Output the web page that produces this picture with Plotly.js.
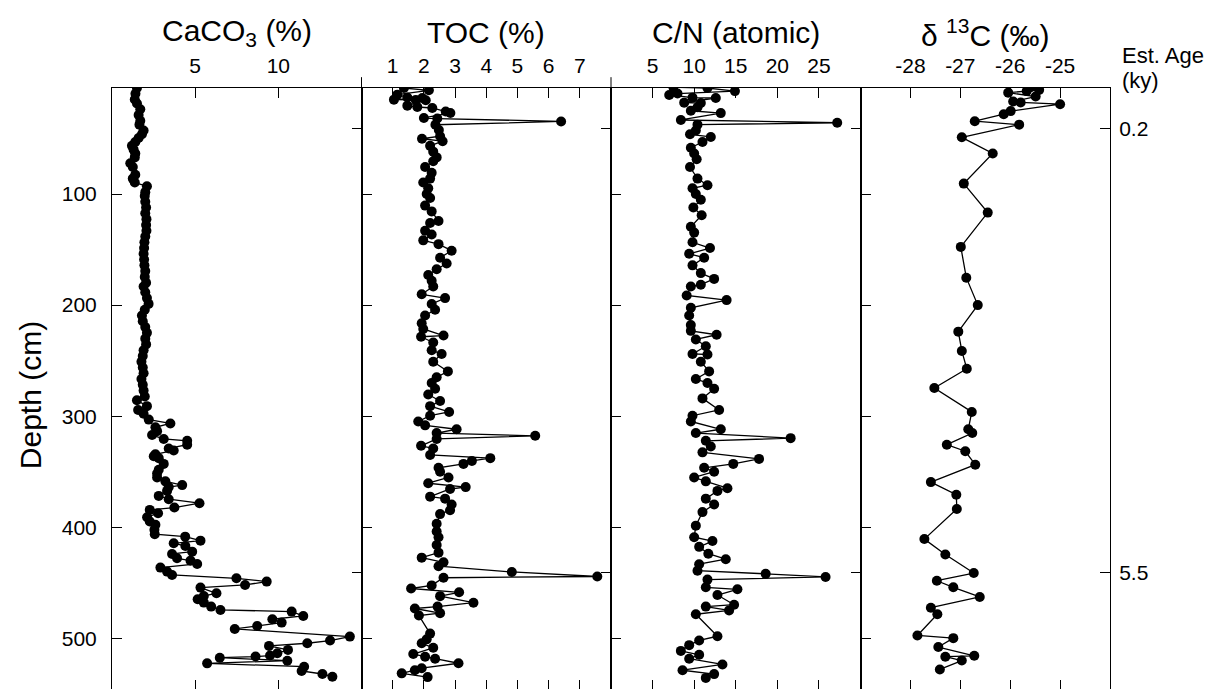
<!DOCTYPE html>
<html>
<head>
<meta charset="utf-8">
<script src="https://cdn.plot.ly/plotly-3.0.1.min.js"></script>
<style>
html, body { margin:0; padding:0; overflow:hidden; background:#fff; }
#chart { width:1213px; height:696px; }
</style>
</head>
<body>
<div id="chart"></div>
<script>
// ---------- data ----------
const caco3Depth = [4.5,9.7,14.9,18.4,23.6,28.8,34,37.5,42.7,46.2,49.6,53.1,56.6,60,63.5,67,72.2,75.7,82.6,86.1,89.6,
  93,98.3,101.7,106.9,112.1,117.3,122.6,127.8,133,138.2,143.4,148.6,153.8,159,164.2,169.4,174.6,179.8,183.3,188.5,193.7,198.9,204.2,209.4,214.6,219.8,225,230.2,235.4,240.6,245.8,251,256.2,261.4,266.6,271.8,277,282.3,285.7,291,294.4,297.9,
  303.1,306.6,310,313.5,317,320.5,322.2,325.7,329.1,330.9,334.4,336.1,337.8,343,348.2,351.7,355.2,358.7,362.1,363.9,367.3,
  371.8,374.8,378.4,382.3,384.4,387.4,391,394.9,397.9,402.4,406.3,408.5,412.1,414.5,416.9,422,424.1,428,430.1,433.1,436.4,440,443,446,449,452,454.4,459.5,461.9,464.9,467.9,471.5,474.5,476,479.9,482.9,485.9,488.9,491.6,498.5,502.1,504.5,506.9,510.5,513.5,515.6,516.5,517.5,520.2,522.6,525.6,529.5,532.2,534.6];
const caco3Value = [1.5,1.41,1.37,1.5,1.7,1.6,1.7,1.65,1.9,1.8,1.6,1.4,1.2,1.3,1.4,1.37,1.1,1.25,1.4,1.25,1.37,
  2.1,2.0,1.97,2.0,2.05,2.0,2.07,2.05,2.07,2.0,1.95,1.93,1.9,1.93,1.95,2.0,1.97,2.05,1.9,2.0,2.1,2.2,1.97,1.8,1.85,2.0,2.1,2.0,2.05,1.9,1.85,1.77,1.85,1.9,1.77,1.85,1.9,1.97,1.5,2.1,1.57,1.9,
  2.21,3.51,2.61,2.71,2.41,3.11,4.52,4.52,3.41,3.71,2.61,2.51,2.81,3.11,2.81,2.71,2.71,3.21,4.22,3.41,3.31,
  2.81,3.41,5.26,3.75,2.27,2.77,2.11,2.27,2.61,2.55,2.57,4.4,5.32,3.71,4.41,4.82,3.61,3.91,4.72,5.12,2.91,3.31,3.61,7.48,9.3,8.0,5.32,6.28,5.52,5.15,5.52,5.96,6.52,10.8,11.5,9.64,10.2,8.73,7.38,14.3,13.11,11.74,9.44,10.58,9.94,9.5,8.63,6.48,10.54,5.72,11.55,11.4,12.65,13.25];

const tocDepth = [4.5,6.6,10.5,13,13.5,15,15.2,15.5,20.4,21.6,22.5,25.6,27,31.5,32,34.6,37.6,42.3,47.9,50.2,52.4,56.6,61.8,67,70.5,75.7,80.9,86.1,89.6,94.8,100,103.5,110.4,115.6,124.3,126,133,136.4,141.7,145.1,151,157.3,162.5,167.7,172.9,178.1,183.3,190.3,193.7,199,204.2,209.4,216.3,221.5,227.4,228.5,233.7,240.6,244.1,251,259.7,264.9,270.1,275.3,280.5,286.4,291,296.2,299.6,304.8,308.3,311.8,315.2,317.7,320.5,326.7,329.1,335,337.8,340.3,343,346.5,350,355.2,360.4,363.9,365.6,372.5,374.3,379.5,384.7,388.2,396.9,403.8,409,416,422.9,427.4,431.6,435.1,440.3,444.4,445.5,452.4,455.2,458.6,462.1,468,471.5,473.2,477.4,479.5,495.8,501,504.5,508.6,514.2,516.6,518.4,522.5,527,528.8,531.6,535];
const tocValue = [1.36,2.16,1.15,1.47,1.95,1.04,1.74,2.06,1.47,1.79,2.27,2.7,2.85,2.0,2.43,6.4,2.37,2.48,2.52,1.94,2.6,2.2,2.3,2.41,2.3,2.04,2.25,2.2,1.98,2.14,2.09,2.2,2.04,2.25,2.47,2.2,2.04,2.25,1.98,2.47,2.89,2.52,2.73,2.41,2.14,2.25,2.3,1.93,2.68,2.25,2.36,2.04,1.93,1.98,2.63,1.91,2.3,2.25,2.57,2.3,2.77,2.41,2.25,2.36,2.14,2.52,2.2,2.81,2.2,1.82,2.04,3.05,2.41,5.57,2.41,1.91,2.3,2.2,4.13,3.54,3.27,2.47,2.52,2.79,2.14,3.34,2.84,2.2,2.68,2.89,2.84,2.52,2.41,2.41,2.47,2.41,2.47,1.93,2.63,2.47,4.82,7.56,2.63,2.25,1.59,3.13,2.52,3.59,2.44,1.71,2.52,1.84,2.2,2.09,1.93,2.3,1.66,2.04,2.36,3.11,1.93,1.71,1.29,2.12];

const cnDepth = [3.8,4.5,7.3,9.5,10.8,13.2,13.5,17.7,18,21.9,25,27.1,33.3,35.8,37.5,42.7,46.2,48.6,53.1,58.3,63.5,68.7,75.7,86.1,92,94.8,100,105.2,112.1,119.1,129.5,134.7,143.4,148.6,153.8,157.3,164.2,171.2,176.4,181.6,183.3,191.3,195.5,202.4,209.4,218,223.2,226.7,230.9,237.1,244,244.5,251,259.7,266.6,270.1,275.3,284,294.4,299.6,304.8,311.8,315.2,319.8,322.2,327.4,332.6,338.5,343,346.5,350,355.2,358.7,364.9,367.3,374.3,379.5,386.4,398.6,409,412.5,417.7,423.9,428.8,433.3,439.2,442,444.8,447.2,454.1,455.9,461.1,469.8,471.5,474.9,478.4,498.2,502,506.2,511.4,514.9,518.4,523.6,528.8,532.3,535.7];
const cnValue = [7.5,11.6,14.9,8.0,7.0,9.8,12.6,8.8,10.8,10.4,9.6,13.2,8.4,27.2,10.4,10.2,9.5,12.0,11.0,9.6,10.0,10.3,9.5,10.4,11.6,9.8,10.2,10.8,9.9,10.9,9.6,10.0,9.8,11.9,9.4,11.2,9.8,10.8,12.4,10.8,9.6,9.1,13.9,9.6,9.4,9.6,9.6,12.7,10.2,11.4,9.8,11.6,10.8,11.8,10.2,11.6,12.4,11.0,13.0,9.8,9.6,13.2,10.2,21.6,11.4,12.0,11.0,17.8,14.7,11.2,12.4,10.0,11.4,14.0,12.8,11.4,12.4,11.0,10.2,10.0,12.2,10.6,11.7,13.8,10.6,10.4,18.6,25.8,11.6,11.4,15.2,12.8,14.8,11.4,14.2,10.2,12.8,10.6,9.4,8.4,10.6,9.4,13.4,8.6,12.4,11.4];

const d13cDepth = [3.8,6.2,7.3,8.7,12.2,16.7,17.5,19.1,25.3,28.1,34.4,37.5,48.9,63.5,90.6,116.7,147.6,175.3,200,223.9,241.3,257.3,274.6,296.2,311.8,315.2,325.7,331.6,343.7,359.4,370.8,383.6,410.7,424.6,441.3,448.2,454.1,462.8,472.5,478.4,497.5,499.9,507.9,515.8,516.6,520.1,528.1];
const d13cValue = [-25.59,-25.42,-25.67,-26.04,-25.49,-25.94,-25.79,-25.0,-25.99,-26.13,-26.71,-25.82,-26.97,-26.35,-26.93,-26.45,-26.99,-26.88,-26.65,-27.04,-26.97,-26.87,-27.52,-26.77,-26.84,-26.76,-27.27,-26.9,-26.7,-27.59,-27.08,-27.07,-27.72,-27.3,-26.73,-27.47,-27.14,-26.61,-27.59,-27.46,-27.86,-27.14,-27.44,-26.72,-27.3,-26.97,-27.41];

const depthTicks = [100,200,300,400,500];
const ageTickDepth = [41,441];
const ageTickText = ['0.2','5.5'];
const caco3Ticks = [5,10];
const tocTicks = [1,2,3,4,5,6,7];
const cnTicks = [5,10,15,20,25];
const d13cTicks = [-28,-27,-26,-25];
const d13cTickText = ['-28','-27','-26','-25'];
const panelTitles = ['CaCO<sub>3</sub> (%)','TOC (%)','C/N (atomic)','\u03B4 <sup>13</sup>C (\u2030)'];

// ---------- styling ----------
const FONT = 'Liberation Sans, Arial, Helvetica, sans-serif';
const depthRange = [546.6, 4.5];
const domains = [[0,0.25],[0.25,0.5],[0.5,0.75],[0.75,1]];

function series(x, y, xa, ya) {
  return {x:x, y:y, xaxis:xa, yaxis:ya, type:'scatter', mode:'lines+markers',
    line:{color:'#000', width:1.3}, marker:{color:'#000', size:10},
    hoverinfo:'x+y', showlegend:false, cliponaxis:true};
}
function xAx(i, range, ticks, text) {
  const ax = {domain:domains[i], range:range, tickvals:ticks, anchor: i===0 ? 'y' : 'y'+(i+1),
    side:'top', ticks:'inside', ticklen:10, tickwidth:1, tickcolor:'#000',
    showline:true, linecolor:'#000', linewidth:1, mirror:'ticks',
    showgrid:false, zeroline:false, ticklabelstandoff:6,
    tickfont:{family:FONT, size:21, color:'#000'}, fixedrange:true};
  if (text) ax.ticktext = text;
  return ax;
}
function yAx(i) {
  return {domain:[0,1], range:depthRange, anchor: i===0 ? 'x' : 'x'+(i+1),
    side:'left', tickvals:depthTicks, ticks:'inside', ticklen:10, tickwidth:1, tickcolor:'#000',
    showline:true, linecolor:'#000', linewidth:1, showgrid:false, zeroline:false,
    showticklabels: i===0, ticklabelstandoff:10,
    tickfont:{family:FONT, size:21, color:'#000'}, fixedrange:true};
}
function ageAx(i) {
  return {domain:[0,1], range:depthRange, anchor: i===0 ? 'x' : 'x'+(i+1),
    overlaying: i===0 ? 'y' : 'y'+(i+1), side:'right',
    tickvals:ageTickDepth, ticktext:ageTickText, ticks:'inside', ticklen:10, tickwidth:1, tickcolor:'#000',
    showline:true, linecolor:'#000', linewidth:1, showgrid:false, zeroline:false,
    showticklabels: i===3, ticklabelstandoff:4,
    tickfont:{family:FONT, size:21, color:'#000'}, fixedrange:true};
}

const data = [
  series(caco3Value, caco3Depth, 'x', 'y'),
  series(tocValue, tocDepth, 'x2', 'y2'),
  series(cnValue, cnDepth, 'x3', 'y3'),
  series(d13cValue, d13cDepth, 'x4', 'y4'),
];
// empty traces so the age (right-hand) axes are built
['y5','y6','y7','y8'].forEach(function(ya, i){
  data.push({x:[], y:[], xaxis: i===0 ? 'x' : 'x'+(i+1), yaxis:ya, type:'scatter', mode:'markers', showlegend:false, hoverinfo:'skip'});
});

const annotations = panelTitles.map(function(t, i){
  return {text:t, xref:'paper', yref:'paper', x:(domains[i][0]+domains[i][1])/2, y:1.0914,
    xanchor:'center', yanchor:'middle', showarrow:false, font:{family:FONT, size:30, color:'#000'}};
});
annotations.push({text:'Depth (cm)', xref:'paper', yref:'paper', x:-0.082, y:0.49, textangle:-90,
  xanchor:'center', yanchor:'middle', showarrow:false, font:{family:FONT, size:30, color:'#000'}});
annotations.push({text:'Est. Age', xref:'paper', yref:'paper', x:1.0105, y:1.054,
  xanchor:'left', yanchor:'middle', showarrow:false, font:{family:FONT, size:22, color:'#000'}});
annotations.push({text:'(ky)', xref:'paper', yref:'paper', x:1.0105, y:1.0125,
  xanchor:'left', yanchor:'middle', showarrow:false, font:{family:FONT, size:22, color:'#000'}});

const shapes = [0.25, 0.5].map(function(px){
  return {type:'line', xref:'paper', yref:'paper', x0:px, x1:px, y0:1, y1:1.018, line:{color:'#000', width:1}};
});

const layout = {
  width:1213, height:696,
  margin:{l:112, r:103, t:88, b:6},
  paper_bgcolor:'#fff', plot_bgcolor:'#fff',
  showlegend:false,
  font:{family:FONT, color:'#000'},
  xaxis: xAx(0, [0,15], caco3Ticks),
  xaxis2: xAx(1, [0,8], tocTicks),
  xaxis3: xAx(2, [0,30], cnTicks),
  xaxis4: xAx(3, [-29,-24], d13cTicks, d13cTickText),
  yaxis: yAx(0), yaxis2: yAx(1), yaxis3: yAx(2), yaxis4: yAx(3),
  yaxis5: ageAx(0), yaxis6: ageAx(1), yaxis7: ageAx(2), yaxis8: ageAx(3),
  annotations: annotations,
  shapes: shapes
};

Plotly.newPlot('chart', data, layout, {displayModeBar:false, staticPlot:true});
</script>
</body>
</html>
